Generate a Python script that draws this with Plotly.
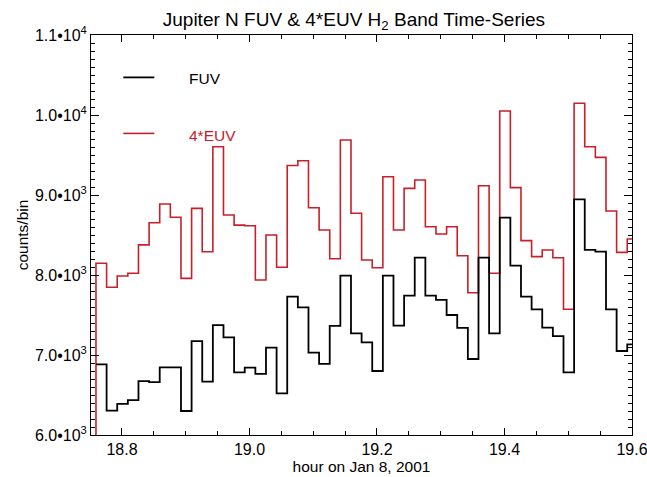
import plotly.graph_objects as go

# ---- data (1-minute bins) ----
bin_start_hour = 18.7592
bin_width_hour = 1 / 60

fuv = [6883, 6304, 6388, 6437, 6674, 6662, 6846, 6846, 6300, 7174,
       6667, 7374, 7221, 6783, 6841, 6763, 7092, 6520, 7729, 7595,
       7029, 6888, 7363, 7991, 7271, 7158, 6800, 7991, 7367, 7742,
       8216, 7742, 7688, 7500, 7338, 6950, 8216, 7271, 8716, 8116,
       7729, 7571, 7342, 7237, 6783, 8946, 8313, 8292, 7571, 7050,
       7134]

euv4 = [8147, 7846, 7987, 8021, 8376, 8654, 8888, 8721, 7958, 8833,
        8291, 9604, 8750, 8624, 8616, 7938, 8500, 8097, 9369, 9429,
        8841, 8563, 8203, 9688, 8771, 8188, 8091, 9229, 8563, 9083,
        9187, 8604, 8513, 8604, 8241, 7778, 9115, 8021, 10050, 9092,
        8430, 8230, 8313, 8216, 7571, 10146, 9604, 9470, 8800, 8283,
        8450]
euv4_lead = 5200  # partial bin before the first full bin (below plotted range)

y_tickvals = [6000, 7000, 8000, 9000, 10000, 11000]
y_ticktext = ["6.0\u202210<sup>3</sup>", "7.0\u202210<sup>3</sup>", "8.0\u202210<sup>3</sup>",
              "9.0\u202210<sup>3</sup>", "1.0\u202210<sup>4</sup>", "1.1\u202210<sup>4</sup>"]
x_tickvals = [18.8, 19.0, 19.2, 19.4, 19.6]
x_ticktext = ["18.8", "19.0", "19.2", "19.4", "19.6"]

RED = "#c8202a"
n = len(fuv)
edges = [bin_start_hour + i * bin_width_hour for i in range(n + 1)]
fx = edges
fy = fuv + [fuv[-1]]
ex = [bin_start_hour - bin_width_hour] + edges
ey = [euv4_lead] + euv4 + [euv4[-1]]

fig = go.Figure()
fig.add_trace(go.Scatter(x=ex, y=ey, mode="lines", line=dict(color=RED, width=1.6, shape="hv"),
                         showlegend=False, cliponaxis=True))
fig.add_trace(go.Scatter(x=fx, y=fy, mode="lines", line=dict(color="black", width=1.8, shape="hv"),
                         showlegend=False, cliponaxis=True))

font = "Liberation Sans, Arial, Helvetica, sans-serif"

fig.update_layout(
    width=647, height=477,
    margin=dict(l=91, r=15, t=35, b=42),
    paper_bgcolor="white", plot_bgcolor="white",
    font=dict(family=font, size=15, color="black"),
    title=dict(text="Jupiter N FUV & 4*EUV H<sub>2</sub> Band Time-Series",
               x=0.547, xanchor="center", y=0.96, yanchor="middle",
               font=dict(size=19, family=font, color="black")),
    showlegend=False,
)

fig.update_xaxes(
    range=[18.7514, 19.6], showgrid=False, zeroline=False, automargin=False,
    showline=True, linecolor="black", linewidth=1, mirror="ticks",
    ticks="inside", ticklen=7, tickcolor="black", tickwidth=1,
    tickvals=x_tickvals, ticktext=x_ticktext, tickfont=dict(size=16),
    ticklabeloverflow="allow",
    minor=dict(ticks="inside", ticklen=4, dtick=0.05, tick0=18.8, tickcolor="black", showgrid=False),
    title=dict(text="hour on Jan 8, 2001", font=dict(size=15.5), standoff=0),
)
fig.update_yaxes(
    range=[6000, 11000], showgrid=False, zeroline=False, automargin=False,
    showline=True, linecolor="black", linewidth=1, mirror="ticks",
    ticks="inside", ticklen=8, tickcolor="black", tickwidth=1,
    tickvals=y_tickvals, ticktext=y_ticktext, tickfont=dict(size=16),
    ticklabeloverflow="allow",
    minor=dict(ticks="inside", ticklen=4, dtick=100, tick0=6000, tickcolor="black", showgrid=False),
    title=dict(text="counts/bin", font=dict(size=15.5), standoff=2),
)

# legend drawn manually (IDL style)
fig.add_shape(type="line", xref="paper", yref="paper", x0=0.0597, x1=0.117, y0=0.894, y1=0.894,
              line=dict(color="black", width=1.8))
fig.add_shape(type="line", xref="paper", yref="paper", x0=0.0597, x1=0.117, y0=0.754, y1=0.754,
              line=dict(color=RED, width=1.6))
fig.add_annotation(text="FUV", xref="paper", yref="paper", x=0.178, y=0.892, xanchor="left",
                   yanchor="middle", showarrow=False, font=dict(size=15.5, color="black"))
fig.add_annotation(text="4*EUV", xref="paper", yref="paper", x=0.178, y=0.748, xanchor="left",
                   yanchor="middle", showarrow=False, font=dict(size=15.5, color=RED))

fig.write_html("out.html")
